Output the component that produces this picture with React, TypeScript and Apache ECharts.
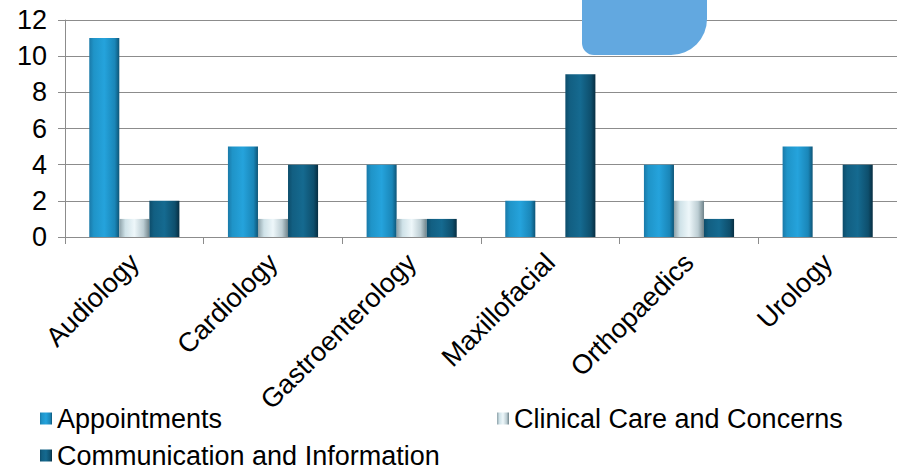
import React, { useEffect, useRef } from "react";
import * as echarts from "echarts";

const categories = ["Audiology", "Cardiology", "Gastroenterology", "Maxillofacial", "Orthopaedics", "Urology"];
const appointments = [11, 5, 4, 2, 4, 5];
const clinicalCare = [1, 1, 1, 0, 2, 0];
const communication = [2, 4, 1, 9, 1, 4];
const seriesNames = ["Appointments", "Clinical Care and Concerns", "Communication and Information"];

const FONT = "'Liberation Sans', Arial, sans-serif";
const FS = 27;

function hGrad(stops: [number, string][]) {
  return new echarts.graphic.LinearGradient(0, 0, 1, 0, stops.map(([offset, color]) => ({ offset, color })));
}

export default function App() {
  const ref = useRef<HTMLDivElement>(null);
  useEffect(() => {
    if (!ref.current) return;
    const chart = echarts.init(ref.current, null, { renderer: "svg" });
    const colA = hGrad([[0, "#1a79a8"], [0.15, "#1f94c8"], [0.5, "#25a3dc"], [0.85, "#1a86b8"], [1, "#0e5577"]]);
    const colB = hGrad([[0, "#8da1a8"], [0.2, "#cfe2e8"], [0.5, "#eef7fa"], [0.8, "#bccdd3"], [1, "#6f838a"]]);
    const colC = hGrad([[0, "#0d4c6a"], [0.15, "#125f82"], [0.5, "#156a90"], [0.85, "#0e4f6d"], [1, "#072e42"]]);
    const legendBase = {
      itemWidth: 12,
      itemHeight: 12,
      icon: "rect",
      itemGap: 4,
      textStyle: { fontSize: FS, fontFamily: FONT, color: "#000", padding: [0, 0, 0, 0] },
      padding: 0,
    };
    chart.setOption({
      animation: false,
      grid: { left: 65, top: 20, right: -5, bottom: 232, containLabel: false },
      legend: [
        { ...legendBase, data: [seriesNames[0]], left: 40, top: 405 },
        { ...legendBase, data: [seriesNames[1]], left: 497, top: 405 },
        { ...legendBase, data: [seriesNames[2]], left: 40, top: 442 },
      ],
      xAxis: {
        type: "category",
        data: categories,
        axisLine: { show: true, lineStyle: { color: "#8c8c8c", width: 1 } },
        axisTick: { show: true, length: 7, lineStyle: { color: "#8c8c8c" } },
        axisLabel: { rotate: 45, fontSize: FS, fontFamily: FONT, color: "#000", margin: 21, interval: 0 },
      },
      yAxis: {
        type: "value",
        min: 0,
        max: 12,
        interval: 2,
        axisLine: { show: true, lineStyle: { color: "#8c8c8c", width: 1 } },
        axisTick: { show: true, length: 7, lineStyle: { color: "#8c8c8c" } },
        axisLabel: { fontSize: FS, fontFamily: FONT, color: "#000", margin: 18 },
        splitLine: { show: true, lineStyle: { color: "#8c8c8c", width: 1 } },
      },
      series: [
        { name: seriesNames[0], type: "bar", data: appointments, barGap: "0%", barCategoryGap: "35%", itemStyle: { color: colA } },
        { name: seriesNames[1], type: "bar", data: clinicalCare, barGap: "0%", barCategoryGap: "35%", itemStyle: { color: colB } },
        { name: seriesNames[2], type: "bar", data: communication, barGap: "0%", barCategoryGap: "35%", itemStyle: { color: colC } },
      ],
      graphic: [
        {
          type: "rect",
          left: 582,
          top: 0,
          shape: { width: 125, height: 55, r: [0, 0, 36, 12] },
          style: { fill: "#62a8e0" },
          z: 100,
        },
      ],
    });
    return () => chart.dispose();
  }, []);
  return <div ref={ref} style={{ width: 897, height: 469, position: "absolute", left: 0, top: 0 }} />;
}
